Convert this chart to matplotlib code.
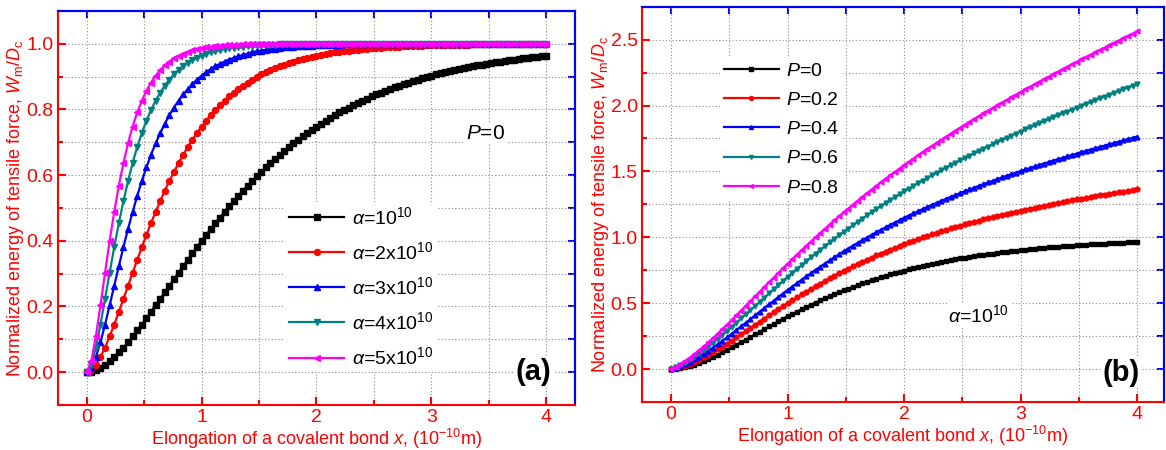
import numpy as np
import matplotlib
matplotlib.use("Agg")
import matplotlib.pyplot as plt
from matplotlib.ticker import MultipleLocator

plt.rcParams['font.family'] = ['Liberation Sans', 'DejaVu Sans']
plt.rcParams['mathtext.fontset'] = 'custom'
plt.rcParams['mathtext.rm'] = 'Liberation Sans'
plt.rcParams['mathtext.it'] = 'Liberation Sans:italic'

# elongation x (10^-10 m), 101 samples from 0 to 4
x = np.linspace(0, 4, 101)

# panel (a): W_m/D_c for different alpha, P=0
alpha1 = [0.000, 0.002, 0.006, 0.013, 0.022, 0.033, 0.046, 0.060, 0.075, 0.091,
          0.109, 0.127, 0.145, 0.164, 0.184, 0.204, 0.223, 0.243, 0.263, 0.283,
          0.303, 0.323, 0.342, 0.362, 0.381, 0.400, 0.418, 0.436, 0.454, 0.471,
          0.488, 0.505, 0.521, 0.537, 0.553, 0.568, 0.582, 0.597, 0.610, 0.624,
          0.637, 0.650, 0.662, 0.674, 0.686, 0.697, 0.708, 0.718, 0.728, 0.738,
          0.748, 0.757, 0.766, 0.774, 0.783, 0.791, 0.798, 0.806, 0.813, 0.820,
          0.827, 0.833, 0.840, 0.846, 0.851, 0.857, 0.862, 0.868, 0.873, 0.877,
          0.882, 0.887, 0.891, 0.895, 0.899, 0.903, 0.907, 0.910, 0.914, 0.917,
          0.920, 0.923, 0.926, 0.929, 0.932, 0.934, 0.937, 0.939, 0.942, 0.944,
          0.946, 0.948, 0.950, 0.952, 0.954, 0.956, 0.957, 0.959, 0.961, 0.962,
          0.964]
alpha2 = [0.000, 0.006, 0.022, 0.046, 0.075, 0.109, 0.145, 0.184, 0.223, 0.263,
          0.303, 0.342, 0.381, 0.418, 0.454, 0.488, 0.521, 0.553, 0.582, 0.610,
          0.637, 0.662, 0.686, 0.708, 0.728, 0.748, 0.766, 0.783, 0.798, 0.813,
          0.827, 0.840, 0.851, 0.862, 0.873, 0.882, 0.891, 0.899, 0.907, 0.914,
          0.920, 0.926, 0.932, 0.937, 0.942, 0.946, 0.950, 0.954, 0.957, 0.961,
          0.964, 0.966, 0.969, 0.971, 0.974, 0.976, 0.977, 0.979, 0.981, 0.982,
          0.984, 0.985, 0.986, 0.987, 0.988, 0.989, 0.990, 0.991, 0.991, 0.992,
          0.993, 0.993, 0.994, 0.994, 0.995, 0.995, 0.995, 0.996, 0.996, 0.996,
          0.997, 0.997, 0.997, 0.997, 0.998, 0.998, 0.998, 0.998, 0.998, 0.998,
          0.999, 0.999, 0.999, 0.999, 0.999, 0.999, 0.999, 0.999, 0.999, 0.999,
          0.999]
alpha3 = [0.000, 0.013, 0.046, 0.091, 0.145, 0.204, 0.263, 0.323, 0.381, 0.436,
          0.488, 0.537, 0.582, 0.624, 0.662, 0.697, 0.728, 0.757, 0.783, 0.806,
          0.827, 0.846, 0.862, 0.877, 0.891, 0.903, 0.914, 0.923, 0.932, 0.939,
          0.946, 0.952, 0.957, 0.962, 0.966, 0.970, 0.974, 0.977, 0.979, 0.982,
          0.984, 0.985, 0.987, 0.989, 0.990, 0.991, 0.992, 0.993, 0.994, 0.994,
          0.995, 0.996, 0.996, 0.997, 0.997, 0.997, 0.998, 0.998, 0.998, 0.998,
          0.999, 0.999, 0.999, 0.999, 0.999, 0.999, 0.999, 0.999, 0.999, 0.999,
          1.000, 1.000, 1.000, 1.000, 1.000, 1.000, 1.000, 1.000, 1.000, 1.000,
          1.000, 1.000, 1.000, 1.000, 1.000, 1.000, 1.000, 1.000, 1.000, 1.000,
          1.000, 1.000, 1.000, 1.000, 1.000, 1.000, 1.000, 1.000, 1.000, 1.000,
          1.000]
alpha4 = [0.000, 0.022, 0.075, 0.145, 0.223, 0.303, 0.381, 0.454, 0.521, 0.582,
          0.637, 0.686, 0.728, 0.766, 0.798, 0.827, 0.851, 0.873, 0.891, 0.907,
          0.920, 0.932, 0.942, 0.950, 0.957, 0.964, 0.969, 0.974, 0.977, 0.981,
          0.984, 0.986, 0.988, 0.990, 0.991, 0.993, 0.994, 0.995, 0.995, 0.996,
          0.997, 0.997, 0.998, 0.998, 0.998, 0.999, 0.999, 0.999, 0.999, 0.999,
          0.999, 0.999, 1.000, 1.000, 1.000, 1.000, 1.000, 1.000, 1.000, 1.000,
          1.000, 1.000, 1.000, 1.000, 1.000, 1.000, 1.000, 1.000, 1.000, 1.000,
          1.000, 1.000, 1.000, 1.000, 1.000, 1.000, 1.000, 1.000, 1.000, 1.000,
          1.000, 1.000, 1.000, 1.000, 1.000, 1.000, 1.000, 1.000, 1.000, 1.000,
          1.000, 1.000, 1.000, 1.000, 1.000, 1.000, 1.000, 1.000, 1.000, 1.000,
          1.000]
alpha5 = [0.000, 0.033, 0.109, 0.204, 0.303, 0.400, 0.488, 0.568, 0.637, 0.697,
          0.748, 0.791, 0.827, 0.857, 0.882, 0.903, 0.920, 0.934, 0.946, 0.956,
          0.964, 0.970, 0.976, 0.980, 0.984, 0.987, 0.989, 0.991, 0.993, 0.994,
          0.995, 0.996, 0.997, 0.997, 0.998, 0.998, 0.999, 0.999, 0.999, 0.999,
          0.999, 0.999, 1.000, 1.000, 1.000, 1.000, 1.000, 1.000, 1.000, 1.000,
          1.000, 1.000, 1.000, 1.000, 1.000, 1.000, 1.000, 1.000, 1.000, 1.000,
          1.000, 1.000, 1.000, 1.000, 1.000, 1.000, 1.000, 1.000, 1.000, 1.000,
          1.000, 1.000, 1.000, 1.000, 1.000, 1.000, 1.000, 1.000, 1.000, 1.000,
          1.000, 1.000, 1.000, 1.000, 1.000, 1.000, 1.000, 1.000, 1.000, 1.000,
          1.000, 1.000, 1.000, 1.000, 1.000, 1.000, 1.000, 1.000, 1.000, 1.000,
          1.000]

# panel (b): alpha = 10^10, different P (P=0 is the same curve as alpha1)
p00 = alpha1
p02 = [0.000, 0.006, 0.014, 0.025, 0.038, 0.053, 0.070, 0.088, 0.107, 0.127,
       0.149, 0.171, 0.193, 0.216, 0.240, 0.264, 0.287, 0.311, 0.335, 0.359,
       0.383, 0.407, 0.430, 0.454, 0.477, 0.500, 0.522, 0.544, 0.566, 0.587,
       0.608, 0.629, 0.649, 0.669, 0.689, 0.708, 0.726, 0.745, 0.762, 0.780,
       0.797, 0.814, 0.830, 0.846, 0.862, 0.877, 0.892, 0.906, 0.920, 0.934,
       0.948, 0.961, 0.974, 0.986, 0.999, 1.011, 1.022, 1.034, 1.045, 1.056,
       1.067, 1.077, 1.088, 1.098, 1.107, 1.117, 1.126, 1.136, 1.145, 1.153,
       1.162, 1.171, 1.179, 1.187, 1.195, 1.203, 1.211, 1.218, 1.226, 1.233,
       1.240, 1.247, 1.254, 1.261, 1.268, 1.274, 1.281, 1.287, 1.294, 1.300,
       1.306, 1.312, 1.318, 1.324, 1.330, 1.336, 1.341, 1.347, 1.353, 1.358,
       1.364]
p04 = [0.000, 0.010, 0.022, 0.037, 0.054, 0.073, 0.094, 0.116, 0.139, 0.163,
       0.189, 0.215, 0.241, 0.268, 0.296, 0.324, 0.351, 0.379, 0.407, 0.435,
       0.463, 0.491, 0.518, 0.546, 0.573, 0.600, 0.626, 0.652, 0.678, 0.703,
       0.728, 0.753, 0.777, 0.801, 0.825, 0.848, 0.870, 0.893, 0.914, 0.936,
       0.957, 0.978, 0.998, 1.018, 1.038, 1.057, 1.076, 1.094, 1.112, 1.130,
       1.148, 1.165, 1.182, 1.198, 1.215, 1.231, 1.246, 1.262, 1.277, 1.292,
       1.307, 1.321, 1.336, 1.350, 1.363, 1.377, 1.390, 1.404, 1.417, 1.429,
       1.442, 1.455, 1.467, 1.479, 1.491, 1.503, 1.515, 1.526, 1.538, 1.549,
       1.560, 1.571, 1.582, 1.593, 1.604, 1.614, 1.625, 1.635, 1.646, 1.656,
       1.666, 1.676, 1.686, 1.696, 1.706, 1.716, 1.725, 1.735, 1.745, 1.754,
       1.764]
p06 = [0.000, 0.014, 0.030, 0.049, 0.070, 0.093, 0.118, 0.144, 0.171, 0.199,
       0.229, 0.259, 0.289, 0.320, 0.352, 0.384, 0.415, 0.447, 0.479, 0.511,
       0.543, 0.575, 0.606, 0.638, 0.669, 0.700, 0.730, 0.760, 0.790, 0.819,
       0.848, 0.877, 0.905, 0.933, 0.961, 0.988, 1.014, 1.041, 1.066, 1.092,
       1.117, 1.142, 1.166, 1.190, 1.214, 1.237, 1.260, 1.282, 1.304, 1.326,
       1.348, 1.369, 1.390, 1.410, 1.431, 1.451, 1.470, 1.490, 1.509, 1.528,
       1.547, 1.565, 1.584, 1.602, 1.619, 1.637, 1.654, 1.672, 1.689, 1.705,
       1.722, 1.739, 1.755, 1.771, 1.787, 1.803, 1.819, 1.834, 1.850, 1.865,
       1.880, 1.895, 1.910, 1.925, 1.940, 1.954, 1.969, 1.983, 1.998, 2.012,
       2.026, 2.040, 2.054, 2.068, 2.082, 2.096, 2.109, 2.123, 2.137, 2.150,
       2.164]
p08 = [0.000, 0.018, 0.038, 0.061, 0.086, 0.113, 0.142, 0.172, 0.203, 0.235,
       0.269, 0.303, 0.337, 0.372, 0.408, 0.444, 0.479, 0.515, 0.551, 0.587,
       0.623, 0.659, 0.694, 0.730, 0.765, 0.800, 0.834, 0.868, 0.902, 0.935,
       0.968, 1.001, 1.033, 1.065, 1.097, 1.128, 1.158, 1.189, 1.218, 1.248,
       1.277, 1.306, 1.334, 1.362, 1.390, 1.417, 1.444, 1.470, 1.496, 1.522,
       1.548, 1.573, 1.598, 1.622, 1.647, 1.671, 1.694, 1.718, 1.741, 1.764,
       1.787, 1.809, 1.832, 1.854, 1.875, 1.897, 1.918, 1.940, 1.961, 1.981,
       2.002, 2.023, 2.043, 2.063, 2.083, 2.103, 2.123, 2.142, 2.162, 2.181,
       2.200, 2.219, 2.238, 2.257, 2.276, 2.294, 2.313, 2.331, 2.350, 2.368,
       2.386, 2.404, 2.422, 2.440, 2.458, 2.476, 2.493, 2.511, 2.529, 2.546,
       2.564]

labels_a = [r'$\alpha$=10$^{10}$', r'$\alpha$=2x10$^{10}$', r'$\alpha$=3x10$^{10}$',
            r'$\alpha$=4x10$^{10}$', r'$\alpha$=5x10$^{10}$']
labels_b = [r'$P$=0', r'$P$=0.2', r'$P$=0.4', r'$P$=0.6', r'$P$=0.8']
colors = ['black', 'red', 'blue', '#008080', 'magenta']
markers = ['s', 'o', '^', 'v', '<']

ylab = r'Normalized energy of tensile force, $W_{\rm m}/D_{\rm c}$'
xlab = r'Elongation of a covalent bond $x$, (10$^{-10}$m)'


def style(ax, xlim, ylim, ymaj, ymin):
    ax.set_xlim(*xlim)
    ax.set_ylim(*ylim)
    ax.xaxis.set_major_locator(MultipleLocator(1))
    ax.xaxis.set_minor_locator(MultipleLocator(0.5))
    ax.yaxis.set_major_locator(MultipleLocator(ymaj))
    ax.yaxis.set_minor_locator(MultipleLocator(ymin))
    ax.grid(True, which='both', linestyle=(0, (1, 2)), color='#8a8a8a', linewidth=0.8)
    ax.set_axisbelow(True)
    for s in ['left', 'bottom']:
        ax.spines[s].set_color('red')
        ax.spines[s].set_linewidth(1.5)
    for s in ['top', 'right']:
        ax.spines[s].set_color('blue')
        ax.spines[s].set_linewidth(1.5)
    ax.tick_params(which='both', direction='in', colors='red', labelsize=14,
                   top=False, right=False, width=1.5, pad=3)
    ax.tick_params(which='major', length=6)
    ax.tick_params(which='minor', length=3.5)

    # blue ticks on top and right
    top = ax.secondary_xaxis('top')
    top.xaxis.set_major_locator(MultipleLocator(0.5))
    top.tick_params(direction='in', colors='blue', length=5, width=1.5,
                    labeltop=False, labelbottom=False)
    top.spines['top'].set_color('blue')
    top.spines['top'].set_linewidth(1.5)
    right = ax.secondary_yaxis('right')
    right.yaxis.set_major_locator(MultipleLocator(ymin))
    right.tick_params(direction='in', colors='blue', length=5, width=1.5,
                      labelright=False, labelleft=False)
    right.spines['right'].set_color('blue')
    right.spines['right'].set_linewidth(1.5)

    ax.set_xlabel(xlab, color='red', fontsize=13, labelpad=0.5)
    ax.set_ylabel(ylab, color='red', fontsize=13)


fig = plt.figure(figsize=(11.66, 4.5), dpi=100)

# ---- panel (a)
ax1 = fig.add_axes([0.0497, 0.1, 0.4434, 0.8756])
series_a = [alpha1, alpha2, alpha3, alpha4, alpha5]
for ys, c, m, lab in zip(series_a, colors, markers, labels_a):
    ax1.plot(x, ys, color=c, marker=m, markersize=4.3, linewidth=1.6, label=lab)
style(ax1, (-0.25, 4.25), (-0.1, 1.1), 0.2, 0.1)
ax1.yaxis.set_label_coords(-0.062, 0.5)
leg1 = ax1.legend(loc='upper left', bbox_to_anchor=(0.44, 0.515), fontsize=14,
                  numpoints=1, handlelength=2.8, handletextpad=0.4,
                  labelspacing=0.68, borderaxespad=0, borderpad=0.2,
                  frameon=True, framealpha=1, facecolor='white', edgecolor='none')
ax1.text(3.47, 0.728, r'$P$=0', fontsize=15, ha='center', va='center',
         bbox=dict(facecolor='white', edgecolor='none', pad=1))
ax1.text(3.89, 0.0, '(a)', fontsize=21, fontweight='bold', ha='center', va='center',
         bbox=dict(facecolor='white', edgecolor='none', pad=1))

# ---- panel (b)
ax2 = fig.add_axes([0.5506, 0.1067, 0.4477, 0.8783])
series_b = [p00, p02, p04, p06, p08]
for ys, c, m, lab in zip(series_b, colors, markers, labels_b):
    ax2.plot(x, ys, color=c, marker=m, markersize=3.5, linewidth=1.6, label=lab)
style(ax2, (-0.25, 4.23), (-0.25, 2.75), 0.5, 0.25)
ax2.yaxis.set_label_coords(-0.06, 0.5)
leg2 = ax2.legend(loc='upper left', bbox_to_anchor=(0.15, 0.87), fontsize=14,
                  numpoints=1, handlelength=2.8, handletextpad=0.4,
                  labelspacing=0.6, borderaxespad=0, borderpad=0.2,
                  markerscale=0.8,
                  frameon=True, framealpha=1, facecolor='white', edgecolor='none')
ax2.text(2.64, 0.41, r'$\alpha$=10$^{10}$', fontsize=14, ha='center', va='center',
         bbox=dict(facecolor='white', edgecolor='none', pad=1))
ax2.text(3.86, -0.03, '(b)', fontsize=21, fontweight='bold', ha='center', va='center',
         bbox=dict(facecolor='white', edgecolor='none', pad=1))

fig.savefig('out.png', dpi=100)
